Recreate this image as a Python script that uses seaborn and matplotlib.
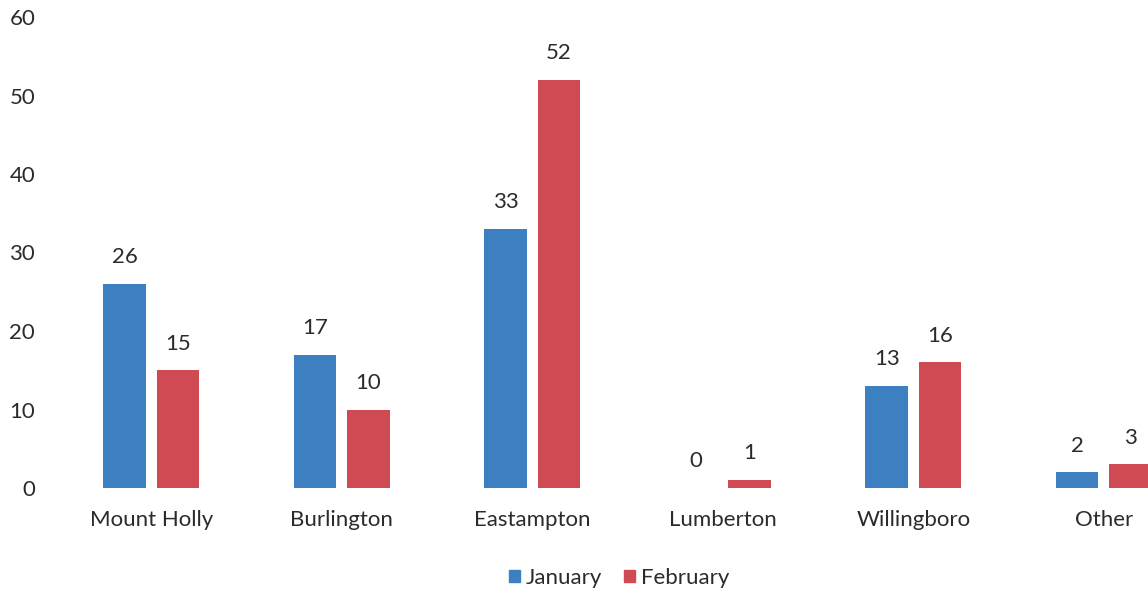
import matplotlib
matplotlib.use("Agg")
import matplotlib.pyplot as plt
import seaborn as sns
import pandas as pd

towns = ["Mount Holly", "Burlington", "Eastampton", "Lumberton", "Willingboro", "Other"]
january = [26, 17, 33, 0, 13, 2]
february = [15, 10, 52, 1, 16, 3]
months = ["January", "February"]
month_colors = ["#3D80C2", "#CF4A52"]
y_ticks = [0, 10, 20, 30, 40, 50, 60]

df = pd.DataFrame({
    "Town": towns * 2,
    "Month": [months[0]] * len(towns) + [months[1]] * len(towns),
    "Count": january + february,
})

sns.set_theme(style="white")
plt.rcParams["font.family"] = ["Lato", "DejaVu Sans"]
text_color = "#2b2b2b"
fs = 16

W, H = 1148, 594
fig = plt.figure(figsize=(W / 100, H / 100), dpi=100)
# axes run past the right edge so the last group is cut off
left_px, right_px, top_px, bottom_px = 56, 1199, 17, 488
ax = fig.add_axes([left_px / W, 1 - bottom_px / H,
                   (right_px - left_px) / W, (bottom_px - top_px) / H])

sns.barplot(data=df, x="Town", y="Count", hue="Month", order=towns,
            hue_order=months, palette=month_colors, width=0.56, gap=0.2,
            saturation=1, linewidth=0, ax=ax, legend=False)

for container in ax.containers:
    ax.bar_label(container, padding=12, fontsize=fs, color=text_color)

ax.set_ylim(0, 60)
ax.set_yticks(y_ticks)
ax.set_xlim(-0.5, len(towns) - 0.5)
ax.set_xlabel("")
ax.set_ylabel("")
ax.tick_params(axis="both", length=0, labelsize=fs, colors=text_color)
ax.tick_params(axis="y", pad=15)
ax.tick_params(axis="x", pad=16)
for s in ax.spines.values():
    s.set_visible(False)
ax.grid(False)

handles = [plt.Rectangle((0, 0), 1, 1, color=c) for c in month_colors]
fig.legend(handles, months, loc="center", bbox_to_anchor=(619 / W, 1 - 578 / H),
           ncol=2, frameon=False, fontsize=fs, handlelength=0.5, handleheight=0.5,
           handletextpad=0.25, columnspacing=1.0, labelcolor=text_color)

fig.savefig("out.png", dpi=100)
